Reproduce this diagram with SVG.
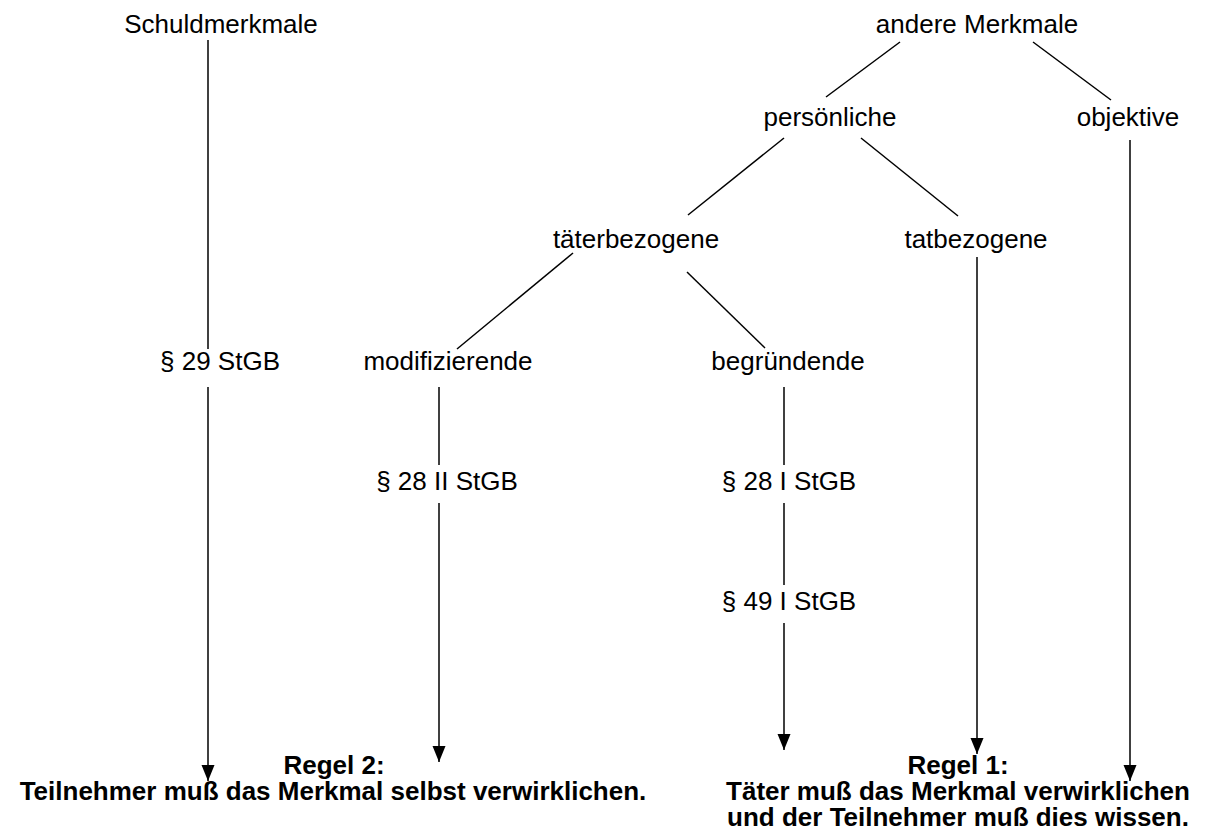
<svg xmlns="http://www.w3.org/2000/svg" width="1207" height="831" viewBox="0 0 1207 831">
  <style>
    .lbl { font-family: "Liberation Sans", Arial, sans-serif; font-size: 26px; fill: #000; text-anchor: middle; }
    .rule { font-family: "Liberation Sans", Arial, sans-serif; font-size: 26px; font-weight: bold; fill: #000; text-anchor: middle; }
    .ln { stroke: #000; stroke-width: 1.5; fill: none; }
  </style>
  <defs>
    <marker id="ah" markerUnits="userSpaceOnUse" markerWidth="16" markerHeight="14" refX="16" refY="6.5" orient="auto">
      <path d="M0,0 L16,6.5 L0,13 Z" fill="#000"/>
    </marker>
  </defs>
  <rect width="1207" height="831" fill="#fff"/>

  <g id="connectors">
    <line class="ln" x1="208" y1="40" x2="208" y2="349"/>
    <line class="ln" x1="208" y1="387" x2="208" y2="781" marker-end="url(#ah)"/>
    <line class="ln" x1="900" y1="42" x2="826" y2="97"/>
    <line class="ln" x1="1033" y1="42" x2="1111" y2="100"/>
    <line class="ln" x1="1130" y1="140" x2="1130" y2="781" marker-end="url(#ah)"/>
    <line class="ln" x1="784" y1="138" x2="688" y2="215"/>
    <line class="ln" x1="861" y1="138" x2="958" y2="216"/>
    <line class="ln" x1="977" y1="257" x2="977" y2="754" marker-end="url(#ah)"/>
    <line class="ln" x1="573" y1="253" x2="457" y2="349"/>
    <line class="ln" x1="687" y1="272" x2="765" y2="348"/>
    <line class="ln" x1="439" y1="387" x2="439" y2="465"/>
    <line class="ln" x1="439" y1="503" x2="439" y2="762" marker-end="url(#ah)"/>
    <line class="ln" x1="784" y1="387" x2="784" y2="465"/>
    <line class="ln" x1="784" y1="503" x2="784" y2="585"/>
    <line class="ln" x1="784" y1="623" x2="784" y2="750" marker-end="url(#ah)"/>
  </g>

  <g id="schuldmerkmale"><text class="lbl" x="221" y="33">Schuldmerkmale</text></g>
  <g id="andere-merkmale"><text class="lbl" x="977" y="33">andere Merkmale</text></g>
  <g id="persoenliche"><text class="lbl" x="830" y="126">persönliche</text></g>
  <g id="objektive"><text class="lbl" x="1128" y="126">objektive</text></g>
  <g id="taeterbezogene"><text class="lbl" x="636" y="248">täterbezogene</text></g>
  <g id="tatbezogene"><text class="lbl" x="976" y="248">tatbezogene</text></g>
  <g id="p29"><text class="lbl" x="220" y="370">§ 29 StGB</text></g>
  <g id="modifizierende"><text class="lbl" x="448" y="370">modifizierende</text></g>
  <g id="begruendende"><text class="lbl" x="788" y="370">begründende</text></g>
  <g id="p28-2"><text class="lbl" x="447" y="490">§ 28 II StGB</text></g>
  <g id="p28-1"><text class="lbl" x="789" y="490">§ 28 I StGB</text></g>
  <g id="p49-1"><text class="lbl" x="789" y="610">§ 49 I StGB</text></g>
  <g id="regel2">
    <text class="rule" x="334" y="774">Regel 2:</text>
    <text class="rule" x="333" y="800">Teilnehmer muß das Merkmal selbst verwirklichen.</text>
  </g>
  <g id="regel1">
    <text class="rule" x="958" y="774">Regel 1:</text>
    <text class="rule" x="958" y="800">Täter muß das Merkmal verwirklichen</text>
    <text class="rule" x="958" y="826">und der Teilnehmer muß dies wissen.</text>
  </g>
</svg>
